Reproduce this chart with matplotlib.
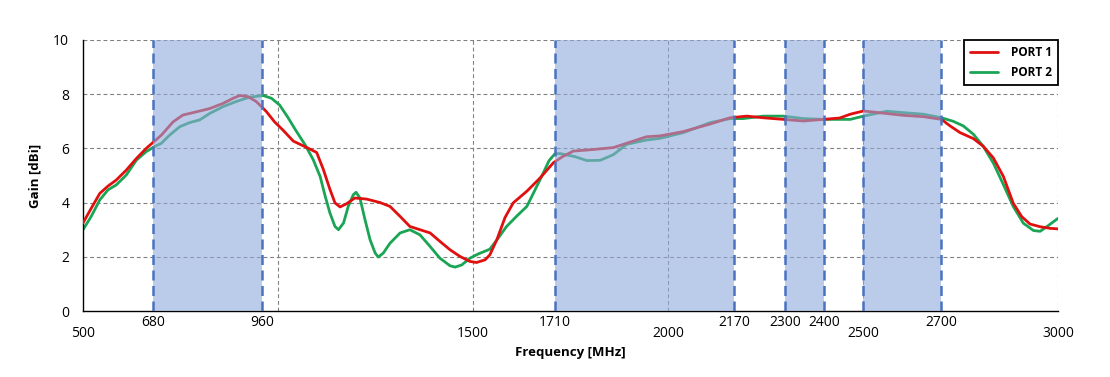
import matplotlib
matplotlib.use("Agg")
import matplotlib.pyplot as plt

plt.rcParams["font.family"] = ["Open Sans", "DejaVu Sans"]

# --- data (MHz, dBi) ---
port1_f = [500, 521, 543, 564, 585, 611, 637, 662, 701, 731, 756, 791, 825, 859,
           885, 902, 923, 944, 970, 991, 1013, 1039, 1074, 1099, 1116, 1133, 1146,
           1159, 1176, 1197, 1227, 1262, 1287, 1313, 1338, 1364, 1390, 1415, 1441,
           1467, 1492, 1509, 1531, 1543, 1561, 1582, 1603, 1638, 1672, 1706, 1730,
           1757, 1809, 1860, 1911, 1945, 1979, 2039, 2108, 2159, 2202, 2244, 2296,
           2347, 2398, 2440, 2467, 2501, 2552, 2603, 2655, 2701, 2723, 2749, 2783,
           2808, 2834, 2860, 2885, 2907, 2928, 2954, 2980, 3000]
port1_g = [3.25, 3.79, 4.34, 4.61, 4.83, 5.2, 5.63, 6.0, 6.49, 6.98, 7.23, 7.35, 7.47,
           7.66, 7.85, 7.95, 7.91, 7.73, 7.36, 6.98, 6.67, 6.27, 6.03, 5.85, 5.23,
           4.49, 3.99, 3.84, 3.96, 4.17, 4.13, 4.0, 3.86, 3.49, 3.12, 3.0, 2.88, 2.57,
           2.26, 2.01, 1.83, 1.79, 1.89, 2.07, 2.63, 3.45, 3.99, 4.42, 4.91, 5.47,
           5.7, 5.9, 5.96, 6.03, 6.27, 6.43, 6.46, 6.62, 6.9, 7.13, 7.19, 7.13, 7.07,
           7.01, 7.07, 7.12, 7.26, 7.38, 7.3, 7.22, 7.17, 7.07, 6.83, 6.58, 6.36,
           6.08, 5.65, 4.96, 3.98, 3.48, 3.21, 3.11, 3.05, 3.03]

port2_f = [500, 521, 543, 564, 585, 611, 637, 662, 684, 701, 722, 748, 773, 799,
           825, 859, 893, 927, 962, 983, 1004, 1025, 1044, 1069, 1090, 1108, 1121,
           1133, 1146, 1155, 1168, 1180, 1193, 1200, 1210, 1223, 1236, 1249, 1257,
           1270, 1287, 1313, 1338, 1364, 1390, 1415, 1441, 1454, 1471, 1492, 1514,
           1543, 1560, 1586, 1612, 1638, 1672, 1695, 1710, 1723, 1760, 1792, 1826,
           1860, 1894, 1945, 1979, 2039, 2108, 2159, 2193, 2244, 2296, 2347, 2398,
           2467, 2501, 2561, 2603, 2655, 2701, 2731, 2757, 2783, 2808, 2834, 2860,
           2885, 2911, 2937, 2954, 2971, 3000]
port2_g = [3.0, 3.49, 4.1, 4.47, 4.65, 5.02, 5.57, 5.88, 6.07, 6.19, 6.49, 6.8, 6.95,
           7.05, 7.29, 7.54, 7.73, 7.89, 7.95, 7.85, 7.6, 7.15, 6.7, 6.14, 5.59,
           4.96, 4.23, 3.62, 3.12, 3.0, 3.25, 3.86, 4.29, 4.38, 4.17, 3.37, 2.63,
           2.14, 1.99, 2.14, 2.5, 2.88, 3.0, 2.81, 2.38, 1.95, 1.67, 1.62, 1.7, 1.95,
           2.11, 2.28, 2.6, 3.12, 3.5, 3.86, 4.85, 5.55, 5.8, 5.81, 5.7, 5.55, 5.56,
           5.77, 6.15, 6.31, 6.37, 6.58, 6.95, 7.1, 7.1, 7.19, 7.19, 7.1, 7.07, 7.07,
           7.19, 7.37, 7.32, 7.26, 7.13, 7.0, 6.83, 6.52, 6.08, 5.46, 4.66, 3.86,
           3.24, 2.97, 2.94, 3.11, 3.42]

bands = [(680, 960), (1710, 2170), (2300, 2400), (2500, 2700)]
ticks_low = [500, 1500, 2000, 2500, 3000]
ticks_high = [680, 960, 1710, 2170, 2300, 2400, 2700]
grid_x = [1000, 1500, 2000, 2500, 3000]

RED = "#E01010"
GREEN = "#1AA555"


def main() -> int:
    fig = plt.figure(figsize=(11.1, 3.77), dpi=100)
    ax = fig.add_axes([0.0748, 0.175, 0.8784, 0.719])

    line_kw = dict(lw=2.0, solid_joinstyle="round", solid_capstyle="round")
    ax.plot(port1_f, port1_g, color=RED, label="PORT 1", zorder=3, **line_kw)
    ax.plot(port2_f, port2_g, color=GREEN, label="PORT 2", zorder=2, **line_kw)

    # frequency bands, semi-transparent on top of the curves
    for lo, hi in bands:
        ax.axvspan(lo, hi, facecolor="#8FAADC", alpha=0.6, lw=0, zorder=4)
        for x in (lo, hi):
            ax.axvline(x, color="#4A72BE", lw=1.8, ls=(0, (4, 2.2)), zorder=5)

    ax.set_xlim(500, 3000)
    ax.set_ylim(0, 10)
    ax.set_yticks([0, 2, 4, 6, 8, 10])

    # two staggered rows of x labels
    ax.set_xticks(ticks_low)
    ax.set_xticks(ticks_high, minor=True)
    ax.set_xticklabels([str(t) for t in ticks_low])
    ax.set_xticklabels([str(t) for t in ticks_high], minor=True)
    ax.tick_params(axis="x", which="major", length=0, pad=11, labelsize=10)
    ax.tick_params(axis="x", which="minor", length=0, pad=3, labelsize=10)
    ax.tick_params(axis="y", length=0, pad=10, labelsize=10)

    grid_kw = dict(color="#808080", lw=0.8, ls=(0, (3.5, 2.5)), zorder=1)
    for y in [2, 4, 6, 8, 10]:
        ax.axhline(y, **grid_kw)
    for x in grid_x:
        ax.axvline(x, **grid_kw)

    for side in ("top", "right"):
        ax.spines[side].set_visible(False)
    ax.spines["left"].set_linewidth(1.0)
    ax.spines["bottom"].set_linewidth(1.0)

    ax.set_xlabel("Frequency [MHz]", fontsize=9.5, fontweight="bold")
    ax.xaxis.set_label_coords(0.5, -0.13)
    ax.set_ylabel("Gain [dBi]", fontsize=9.5, fontweight="bold")
    ax.yaxis.set_label_coords(-0.043, 0.5)

    leg = ax.legend(loc="upper right", bbox_to_anchor=(1.0, 1.0), borderaxespad=0,
                    fancybox=False, framealpha=1, edgecolor="black",
                    prop={"weight": "bold", "size": 8.5}, handlelength=2.3,
                    handletextpad=1.1, borderpad=0.55, labelspacing=0.55)
    leg.get_frame().set_linewidth(1.3)
    leg.set_zorder(10)

    fig.savefig("out.png", dpi=100)
    plt.close(fig)
    return 0


if __name__ == "__main__":
    raise SystemExit(main())
